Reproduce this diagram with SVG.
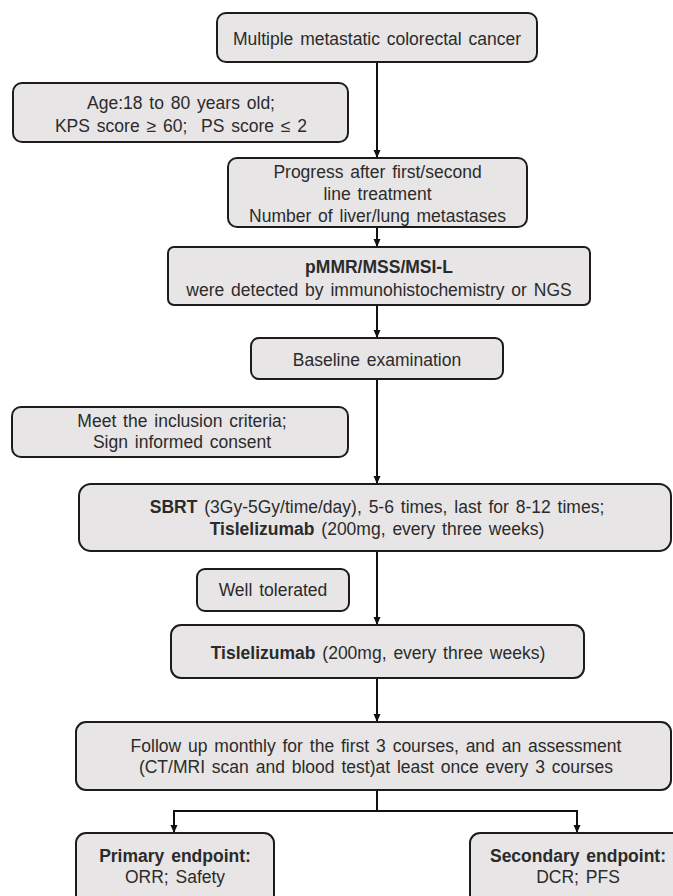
<svg xmlns="http://www.w3.org/2000/svg" width="673" height="896" viewBox="0 0 673 896">
<style>
.box { fill:#e7e5e5; stroke:#1c1c1c; stroke-width:2; }
text { font-family:"Liberation Sans", Arial, sans-serif; font-size:17.5px; fill:#2b2b2b; text-anchor:middle; word-spacing:2px; }
.b { font-weight:bold; }
.conn { stroke:#111; stroke-width:2; fill:none; }
</style>
<defs>
<marker id="arr" markerUnits="userSpaceOnUse" markerWidth="9" markerHeight="8" refX="8" refY="3.5" orient="auto">
<path d="M0,0 L8,3.5 L0,7 z" fill="#111"/>
</marker>
</defs>
<rect width="673" height="896" fill="#ffffff"/>
<g id="connectors">
<line class="conn" x1="377" y1="62" x2="377" y2="158" marker-end="url(#arr)"/>
<line class="conn" x1="377" y1="227" x2="377" y2="247" marker-end="url(#arr)"/>
<line class="conn" x1="377" y1="305" x2="377" y2="338" marker-end="url(#arr)"/>
<line class="conn" x1="377" y1="379" x2="377" y2="484" marker-end="url(#arr)"/>
<line class="conn" x1="377" y1="551" x2="377" y2="625" marker-end="url(#arr)"/>
<line class="conn" x1="377" y1="678" x2="377" y2="722" marker-end="url(#arr)"/>
<polyline class="conn" points="377,790 377,811"/>
<polyline class="conn" points="174,811 577,811"/>
<line class="conn" x1="174" y1="810" x2="174" y2="833" marker-end="url(#arr)"/>
<line class="conn" x1="577" y1="810" x2="577" y2="833" marker-end="url(#arr)"/>
</g>
<g id="n1">
<rect class="box" x="217" y="13" width="320" height="49" rx="9"/>
<text x="377" y="45">Multiple metastatic colorectal cancer</text>
</g>
<g id="n2">
<rect class="box" x="13" y="83" width="335" height="59" rx="9"/>
<text x="181" y="109">Age:18 to 80 years old;</text>
<text x="181" y="132">KPS score ≥ 60;&#160; PS score ≤ 2</text>
</g>
<g id="n3">
<rect class="box" x="228" y="158" width="299" height="69" rx="9"/>
<text x="377.5" y="178">Progress after first/second</text>
<text x="377.5" y="200">line treatment</text>
<text x="377.5" y="222">Number of liver/lung metastases</text>
</g>
<g id="n4">
<rect class="box" x="168" y="247" width="422" height="58" rx="6"/>
<text class="b" x="379" y="273">pMMR/MSS/MSI-L</text>
<text x="379" y="296">were detected by immunohistochemistry or NGS</text>
</g>
<g id="n5">
<rect class="box" x="251" y="338" width="252" height="41" rx="8"/>
<text x="377" y="366">Baseline examination</text>
</g>
<g id="n6">
<rect class="box" x="12" y="407" width="336" height="50" rx="9"/>
<text x="182" y="427">Meet the inclusion criteria;</text>
<text x="182" y="448">Sign informed consent</text>
</g>
<g id="n7">
<rect class="box" x="79" y="484" width="592" height="67" rx="12"/>
<text x="377" y="513"><tspan class="b">SBRT</tspan> (3Gy-5Gy/time/day), 5-6 times, last for 8-12 times;</text>
<text x="377" y="535"><tspan class="b">Tislelizumab</tspan> (200mg, every three weeks)</text>
</g>
<g id="n8">
<rect class="box" x="197" y="569" width="152" height="42" rx="8"/>
<text x="273" y="596">Well tolerated</text>
</g>
<g id="n9">
<rect class="box" x="171" y="625" width="413" height="53" rx="10"/>
<text x="378" y="659"><tspan class="b">Tislelizumab</tspan> (200mg, every three weeks)</text>
</g>
<g id="n10">
<rect class="box" x="76" y="722" width="595" height="68" rx="10"/>
<text x="376" y="752">Follow up monthly for the first 3 courses, and an assessment</text>
<text x="376" y="773">(CT/MRI scan and blood test)at least once every 3 courses</text>
</g>
<g id="n11">
<rect class="box" x="76" y="833" width="198" height="90" rx="10"/>
<text class="b" x="175" y="862">Primary endpoint:</text>
<text x="175" y="883">ORR; Safety</text>
</g>
<g id="n12">
<rect class="box" x="470" y="833" width="230" height="90" rx="10"/>
<text class="b" x="578" y="862">Secondary endpoint:</text>
<text x="578" y="883">DCR; PFS</text>
</g>
</svg>
